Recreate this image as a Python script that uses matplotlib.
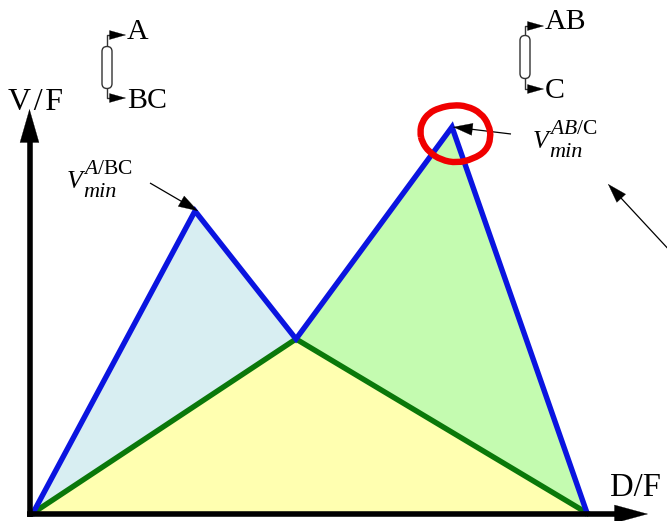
"""Ternary distillation sketch: V/F against D/F with two minimum-vapour peaks."""

import math

import matplotlib

matplotlib.use("Agg")
import matplotlib.pyplot as plt
from matplotlib.patches import FancyArrowPatch, FancyBboxPatch, PathPatch
from matplotlib.path import Path

ORIGIN = (33, 513)
PEAK_A = (195, 211)
SADDLE = (296, 339)
PEAK_AB = (452, 127)
END = (587, 513)

BOUNDARY_X = [ORIGIN[0], PEAK_A[0], SADDLE[0], PEAK_AB[0], END[0]]
BOUNDARY_Y = [ORIGIN[1], PEAK_A[1], SADDLE[1], PEAK_AB[1], END[1]]
LOWER_X = [ORIGIN[0], SADDLE[0], END[0]]
LOWER_Y = [ORIGIN[1], SADDLE[1], END[1]]

LEFT_REGION = [ORIGIN, PEAK_A, SADDLE]
RIGHT_REGION = [SADDLE, PEAK_AB, END]
LOWER_REGION = [ORIGIN, SADDLE, END]

# hand-drawn red ring around the second peak
RING_X = [420, 422, 429, 439, 453, 467, 481, 489, 491, 486, 473, 457, 441, 429, 422]
RING_Y = [132, 122, 113, 108, 105, 106, 113, 125, 138, 151, 159, 163, 160, 152, 142]

plt.rcParams["font.family"] = ["Liberation Serif"]
plt.rcParams["mathtext.fontset"] = "custom"
plt.rcParams["mathtext.rm"] = "Liberation Serif"
plt.rcParams["mathtext.it"] = "Liberation Serif:italic"


def arrow(ax, start, end, lw, head_length, head_width):
    # shaft and head are separate so the stroke does not fatten the head
    length = math.hypot(end[0] - start[0], end[1] - start[1])
    frac = (length - head_length + 1) / length
    base = (start[0] + (end[0] - start[0]) * frac, start[1] + (end[1] - start[1]) * frac)
    ax.plot([start[0], base[0]], [start[1], base[1]], color="black", lw=lw, solid_capstyle="butt", zorder=5)
    style = f"-|>,head_length={head_length * 0.72},head_width={head_width * 0.36}"
    ax.add_patch(
        FancyArrowPatch(
            base, end, arrowstyle=style, mutation_scale=1, lw=0.2, color="black",
            shrinkA=0, shrinkB=0, zorder=5,
        )
    )


def column(ax, x, top, bottom, stub_top, stub_bottom, top_label, bottom_label, label_x, base_top, base_bottom):
    ax.add_patch(
        FancyBboxPatch(
            (x - 2.5, top + 3), 5, bottom - top - 6, boxstyle="round,pad=2.5,rounding_size=5",
            fc="white", ec="#333333", lw=1.0, zorder=4,
        )
    )
    ax.plot([x + 4, x, x], [stub_top, stub_top, top], color="#333333", lw=1.0, zorder=3)
    ax.plot([x + 4, x, x], [stub_bottom, stub_bottom, bottom], color="#333333", lw=1.0, zorder=3)
    arrow(ax, (x + 3, stub_top), (x + 19, stub_top), 0.5, 16, 9)
    arrow(ax, (x + 3, stub_bottom), (x + 19, stub_bottom), 0.5, 16, 9)
    ax.text(label_x, base_top, top_label, fontsize=21.5, ha="left", va="baseline")
    ax.text(label_x, base_bottom, bottom_label, fontsize=21.5, ha="left", va="baseline")


def vmin_label(ax, x, base, sup):
    ax.text(x, base, "V", fontsize=18.5, style="italic", ha="left", va="baseline")
    ax.text(x + 16, base - 14, sup, fontsize=15.5, ha="left", va="baseline")
    ax.text(x + 16, base + 9, "min", fontsize=16, style="italic", ha="left", va="baseline")


def ring_path(xs, ys):
    # closed quadratic curve through the midpoints of the traced ring
    count = len(xs)
    mid = lambda i: ((xs[i] + xs[(i + 1) % count]) / 2, (ys[i] + ys[(i + 1) % count]) / 2)
    verts = [mid(count - 1)]
    codes = [Path.MOVETO]
    for i in range(count):
        verts += [(xs[i], ys[i]), mid(i)]
        codes += [Path.CURVE3, Path.CURVE3]
    return Path(verts, codes)


fig = plt.figure(figsize=(6.67, 5.21), dpi=100)
ax = fig.add_axes([0, 0, 1, 1])
ax.set_xlim(0, 667)
ax.set_ylim(521, 0)
ax.axis("off")

ax.fill(*zip(*LEFT_REGION), color="#D8EEF2", lw=0, zorder=1)
ax.fill(*zip(*RIGHT_REGION), color="#C4FBB0", lw=0, zorder=1)
ax.fill(*zip(*LOWER_REGION), color="#FFFFB0", lw=0, zorder=1)

ax.plot(LOWER_X, LOWER_Y, color="#0A780A", lw=3.9, solid_joinstyle="miter", zorder=2)
ax.plot(BOUNDARY_X, BOUNDARY_Y, color="#0A14E0", lw=3.9, solid_joinstyle="miter", zorder=3)

# axes
arrow(ax, (29.5, 517), (29.5, 109), 4.0, 33, 19)
arrow(ax, (27, 514), (648, 514), 4.0, 33, 18)
ax.text(8, 110, "V\u200a/\u200aF", fontsize=23, ha="left", va="baseline")
ax.text(610, 496, "D/F", fontsize=23.5, ha="left", va="baseline")

# column sketches
column(ax, 107, 46, 89, 35, 98, "A", "BC", 127, 39, 108)
column(ax, 525, 35, 79, 26, 89, "AB", "C", 545, 29, 98)

# peak labels and pointers
vmin_label(ax, 67, 188, r"$A/\mathrm{BC}$")
vmin_label(ax, 533, 148, r"$AB/\mathrm{C}$")
arrow(ax, (150, 183), (198, 211), 0.9, 19, 12)
arrow(ax, (511, 134), (453, 127), 0.9, 19, 12)
arrow(ax, (672, 253), (608, 184), 0.9, 19, 12)

ax.add_patch(PathPatch(ring_path(RING_X, RING_Y), fc="none", ec="#F00000", lw=4.6, zorder=6))

fig.savefig("out.png", dpi=100)
